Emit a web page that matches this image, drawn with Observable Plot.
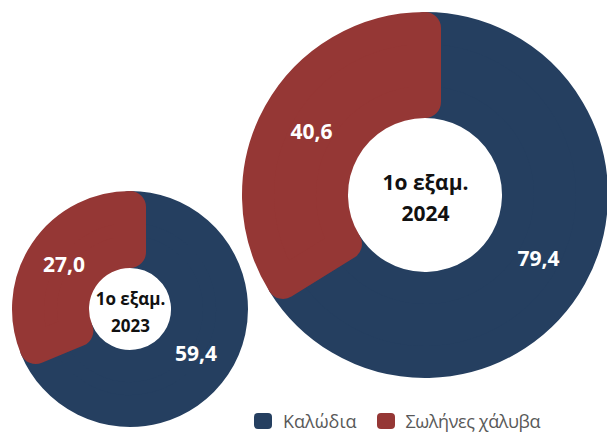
<!DOCTYPE html>
<html>
<head>
<meta charset="utf-8">
<script src="https://cdn.jsdelivr.net/npm/d3@7"></script>
<script src="https://cdn.jsdelivr.net/npm/@observablehq/plot@0.6"></script>
<style>
  html, body { margin: 0; padding: 0; background: #ffffff; }
  #wrap { position: relative; width: 607px; height: 432px; overflow: hidden; }
  #legend { position: absolute; left: 254px; top: 409px; display: flex; align-items: center;
            font-family: "Open Sans", sans-serif; font-size: 18px; color: #595959; }
  #legend .item { display: flex; align-items: center; margin-right: 20px; }
  #legend .sw { width: 18px; height: 16px; border-radius: 4px; margin-right: 11px; }
  #legend .item:last-child span { letter-spacing: -0.4px; }
</style>
</head>
<body>
<div id="wrap"></div>
<script>
// ---- data ----
const periods = ["2023", "2024"];
const centerLabels = ["1ο εξαμ.\n2023", "1ο εξαμ.\n2024"];
const categories = ["Καλώδια", "Σωλήνες χάλυβα"];
const cables = [59.4, 79.4];   // Καλώδια
const pipes = [27.0, 40.6];    // Σωλήνες χάλυβα
const colors = ["#253f60", "#953735"];

// ---- layout (sizes in px, kept in code) ----
const ringSize = {"2023": {outer: 118, inner: 41}, "2024": {outer: 183, inner: 77}};
const halfStroke = 16;

const rows = periods.flatMap((p, i) => [
  {period: p, category: categories[0], value: cables[i]},
  {period: p, category: categories[1], value: pipes[i]}
]);

const fmt = v => d3.format(".1f")(v).replace(".", ",");

const ringMark = Plot.dot(rows, {
  x: "period",
  y: "period",
  fill: "category",
  render(index, scales, values) {
    const g = d3.create("svg:g");
    const groups = d3.group(index, i => rows[i].period);
    for (const [period, idx] of groups) {
      const size = ringSize[period];
      const arcs = d3.pie().sort(null).value(i => rows[i].value)(idx);
      const arcGen = d3.arc()
        .innerRadius(size.inner + halfStroke)
        .outerRadius(size.outer - halfStroke);
      for (const a of arcs) {
        const i = a.data;
        g.append("path")
          .attr("transform", `translate(${values.x[i]},${values.y[i]})`)
          .attr("d", arcGen(a))
          .attr("fill", values.fill[i])
          .attr("stroke", values.fill[i])
          .attr("stroke-width", halfStroke * 2)
          .attr("stroke-linejoin", "round");
      }
      for (const a of arcs) {
        const i = a.data;
        const [cx, cy] = arcGen.centroid(a);
        g.append("text")
          .attr("x", values.x[i] + cx)
          .attr("y", values.y[i] + cy)
          .attr("dy", "0.36em")
          .attr("text-anchor", "middle")
          .attr("fill", "#ffffff")
          .attr("font-weight", "bold")
          .attr("font-size", 21)
          .text(fmt(rows[i].value));
      }
    }
    return g.node();
  }
});

const plot = Plot.plot({
  width: 607,
  height: 432,
  margin: 0,
  style: {fontFamily: "'Open Sans', sans-serif", background: "#ffffff"},
  x: {type: "point", domain: periods, range: [130, 425], padding: 0, axis: null},
  y: {type: "point", domain: periods, range: [309, 195], padding: 0, axis: null},
  color: {domain: categories, range: colors},
  marks: [
    ringMark,
    Plot.text(periods, {
      filter: (d, i) => i === 0,
      x: d => d, y: d => d,
      text: (d, i) => centerLabels[i],
      fontSize: 17, lineHeight: 1.6, fontWeight: "bold", fill: "#111111"
    }),
    Plot.text(periods, {
      filter: (d, i) => i === 1,
      x: d => d, y: d => d,
      text: (d, i) => centerLabels[i],
      fontSize: 21, lineHeight: 1.47, fontWeight: "bold", fill: "#111111"
    })
  ]
});

const wrap = document.getElementById("wrap");
wrap.appendChild(plot);

const color = plot.scale("color");
const legend = document.createElement("div");
legend.id = "legend";
for (let k = 0; k < categories.length; k++) {
  const item = document.createElement("div");
  item.className = "item";
  const sw = document.createElement("div");
  sw.className = "sw";
  sw.style.background = color.range[k];
  const label = document.createElement("span");
  label.textContent = categories[k];
  item.appendChild(sw);
  item.appendChild(label);
  legend.appendChild(item);
}
wrap.appendChild(legend);
</script>
</body>
</html>
